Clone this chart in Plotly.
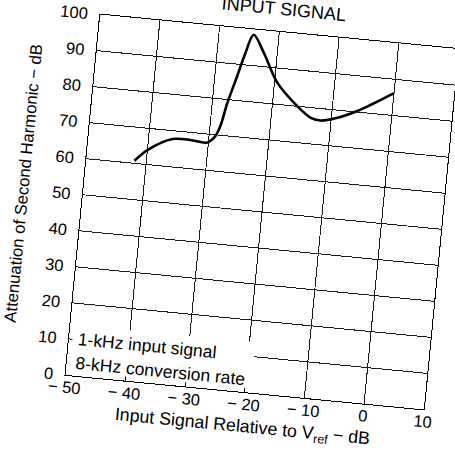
import plotly.graph_objects as go

# Curve read from the (slightly rotated) scan, in data coordinates
input_db = [-42, -40, -36, -33, -30.3, -29, -28.3, -27.5, -26.3, -25.3, -24.2,
            -22.2, -19.5, -15.8, -13.4, -11.7, -9.5, -5.8, 0]
atten_db = [60.7, 64.0, 67.7, 67.9, 67.6, 69.5, 72.4, 79.0, 86.6, 93.2, 98.5,
            93.7, 85.9, 80.0, 77.2, 76.7, 77.6, 80.3, 86.2]

x_ticks = [-50, -40, -30, -20, -10, 0, 10]
x_tick_text = ["\u2212 50", "\u2212 40", "\u2212 30", "\u2212 20", "\u2212 10", "0", "10"]
y_ticks = [0, 10, 20, 30, 40, 50, 60, 70, 80, 90, 100]
y_tick_text = [str(v) for v in y_ticks]

note_lines = ["1-kHz input signal", "8-kHz conversion rate"]
title_text = "INPUT SIGNAL"
x_title = "Input Signal Relative to V<sub>ref</sub> \u2212 dB"
y_title = "Attenuation of Second Harmonic \u2212 dB"

FONT = "Liberation Sans, Arial, Helvetica, sans-serif"

fig = go.Figure()
fig.add_trace(go.Scatter(
    x=input_db, y=atten_db, mode="lines",
    line=dict(color="black", width=2.6, shape="spline", smoothing=0.9),
    hoverinfo="skip", showlegend=False,
))

fig.update_layout(
    width=455, height=455,
    margin=dict(l=82, r=13, t=31, b=62, autoexpand=False),
    paper_bgcolor="white", plot_bgcolor="white",
    font=dict(family=FONT, color="black"),
    showlegend=False,
)
fig.update_xaxes(
    range=[-50, 10], tickvals=x_ticks, ticktext=x_tick_text,
    showgrid=True, gridcolor="#1a1a1a", gridwidth=1,
    showline=True, linecolor="black", linewidth=1.2, mirror=True,
    zeroline=False, ticks="", tickfont=dict(size=16.5, family=FONT, color="black"),
    ticklabelstandoff=-3, ticklabeloverflow="allow", automargin=False,
)
fig.update_yaxes(
    range=[0, 100], tickvals=y_ticks, ticktext=y_tick_text,
    showgrid=True, gridcolor="#1a1a1a", gridwidth=1,
    showline=True, linecolor="black", linewidth=1.2, mirror=True,
    zeroline=False, ticks="", tickfont=dict(size=16.5, family=FONT, color="black"),
    ticklabelstandoff=8, ticklabeloverflow="allow", automargin=False,
)

# white patch behind the note
fig.add_shape(type="rect", xref="x", yref="y", x0=-49.4, x1=-19.0, y0=1.2, y1=14,
              fillcolor="white", line=dict(width=0), layer="above")
fig.add_annotation(text=note_lines[0], xref="x", yref="y", x=-48.8, y=10.1,
                   xanchor="left", yanchor="middle", showarrow=False,
                   font=dict(size=17.5, family=FONT, color="black"))
fig.add_annotation(text=note_lines[1], xref="x", yref="y", x=-48.8, y=3.7,
                   xanchor="left", yanchor="middle", showarrow=False,
                   font=dict(size=17.5, family=FONT, color="black"))

fig.add_annotation(text=title_text, xref="paper", yref="paper", x=0.506, y=1.0635,
                   xanchor="center", yanchor="middle", showarrow=False,
                   font=dict(size=18, family=FONT, color="black"))
fig.add_annotation(text=x_title, xref="paper", yref="paper", x=0.503, y=-0.097,
                   xanchor="center", yanchor="middle", showarrow=False,
                   font=dict(size=17.8, family=FONT, color="black"))
fig.add_annotation(text=y_title, xref="paper", yref="paper", x=-0.166, y=0.517,
                   xanchor="center", yanchor="middle", showarrow=False, textangle=-90,
                   font=dict(size=16.7, family=FONT, color="black"))

# the scanned page is turned slightly clockwise; clip to the 455x455 page
post = (
    "document.documentElement.style.overflow='hidden';"
    "document.body.style.overflow='hidden';"
    "document.body.style.margin='0';"
    "var gd=document.getElementById('{plot_id}');"
    "var wrap=gd.parentElement;"
    "wrap.style.width='455px';wrap.style.height='455px';"
    "wrap.style.overflow='hidden';wrap.style.position='relative';"
    "gd.style.transformOrigin='262px 212px';"
    "gd.style.transform='rotate(5.5deg)';"
)
fig.write_html("out.html", post_script=post)
